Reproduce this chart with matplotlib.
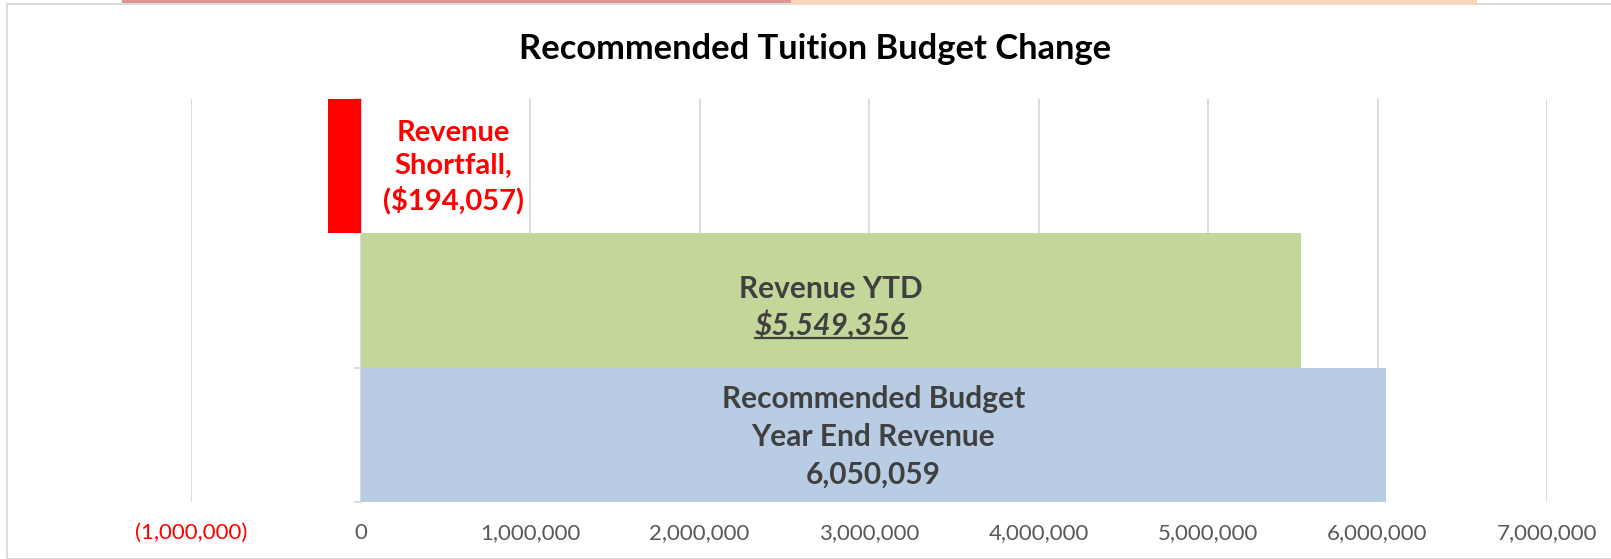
import matplotlib
matplotlib.use("Agg")
import matplotlib.pyplot as plt
from matplotlib.patches import Rectangle
from matplotlib.lines import Line2D
from matplotlib.ticker import FuncFormatter

plt.rcParams['font.family'] = ['Lato', 'DejaVu Sans']

# ---- data ----
categories = ["Recommended Budget Year End Revenue", "Revenue YTD", "Revenue Shortfall"]
values = [6050059, 5549356, -194057]
bar_colors = ["#B8CCE4", "#C4D79B", "#FF0000"]
x_ticks = [-1000000, 0, 1000000, 2000000, 3000000, 4000000, 5000000, 6000000, 7000000]
title = "Recommended Tuition Budget Change"

W, H = 1611, 559
fig = plt.figure(figsize=(W / 100, H / 100), dpi=100)

# chart frame border and top strip (screenshot context)
fig.patches.append(Rectangle((7 / W, 0), 1.0, (H - 4) / H, transform=fig.transFigure,
                             fill=False, edgecolor="#D9D9D9", linewidth=1.3))
fig.patches.append(Rectangle((122 / W, (H - 2.5) / H), (791 - 122) / W, 2.5 / H,
                             transform=fig.transFigure, facecolor="#DA9694", edgecolor="none"))
fig.patches.append(Rectangle((791 / W, (H - 3.5) / H), (1477 - 791) / W, 3.5 / H,
                             transform=fig.transFigure, facecolor="#FCD5B4", edgecolor="none"))

ax = fig.add_axes([191 / W, 1 - 502 / H, (1547 - 191) / W, (502 - 99) / H])
ypos = list(range(len(categories)))
ax.barh(ypos, values, height=1.0, color=bar_colors, zorder=3)

ax.set_xlim(x_ticks[0], x_ticks[-1])
ax.set_ylim(-0.5, len(categories) - 0.5)
ax.set_xticks(x_ticks)

def fmt(v, pos):
    if v < 0:
        return "({:,.0f})".format(-v)
    return "{:,.0f}".format(v)

ax.xaxis.set_major_formatter(FuncFormatter(fmt))
ax.tick_params(axis='x', length=0, labelsize=16, labelcolor="#595959", pad=15)
for lab, v in zip(ax.get_xticklabels(), x_ticks):
    if v < 0:
        lab.set_color("#FF0000")

ax.grid(axis='x', color="#D9D9D9", linewidth=1.3, zorder=0)
ax.set_axisbelow(True)
for s in ["top", "right", "bottom"]:
    ax.spines[s].set_visible(False)
ax.spines['left'].set_position(('data', 0))
ax.spines['left'].set_color("#D9D9D9")
ax.spines['left'].set_linewidth(1.3)
ax.spines['left'].set_zorder(2)
ax.set_yticks([y + 0.5 for y in [-1] + ypos])
ax.set_yticklabels([])
ax.tick_params(axis='y', length=5, width=1.3, color="#D9D9D9", direction='out')

fig.text(815 / W, 1 - 49 / H, title, ha='center', va='center',
         fontsize=24.8, fontweight='bold', color='black')

# bar labels
lab_color = "#404040"
LS = 21.5
ax.annotate("Revenue\nShortfall,\n($194,057)", xy=(0, 2), xytext=(93, -1),
            textcoords='offset pixels', ha='center', va='center',
            fontsize=21, fontweight='bold', color="#FF0000", linespacing=1.31, zorder=5)

ytd_x = values[1] / 2
ax.annotate("Revenue YTD", xy=(ytd_x, 1), xytext=(0, 12), textcoords='offset pixels',
            ha='center', va='center', fontsize=LS, fontweight='bold', color=lab_color, zorder=5)
amt = ax.annotate("${:,.0f}".format(values[1]), xy=(ytd_x, 1), xytext=(0, -24),
                  textcoords='offset pixels', ha='center', va='center', fontsize=LS,
                  fontweight='bold', fontstyle='italic', color=lab_color, zorder=5)

ax.annotate("Recommended Budget\nYear End Revenue\n{:,.0f}".format(values[0]),
            xy=(values[0] / 2, 0), xytext=(0, -2), textcoords='offset pixels',
            ha='center', va='center', fontsize=LS, fontweight='bold', color=lab_color,
            linespacing=1.43, zorder=5)

# underline for the YTD amount
fig.canvas.draw()
bb = amt.get_window_extent(renderer=fig.canvas.get_renderer())
uy = bb.y0 + 1
fig.lines.append(Line2D([bb.x0 / W, bb.x1 / W], [uy / H, uy / H], transform=fig.transFigure,
                        color=lab_color, linewidth=1.6))

fig.savefig("out.png", dpi=100)
